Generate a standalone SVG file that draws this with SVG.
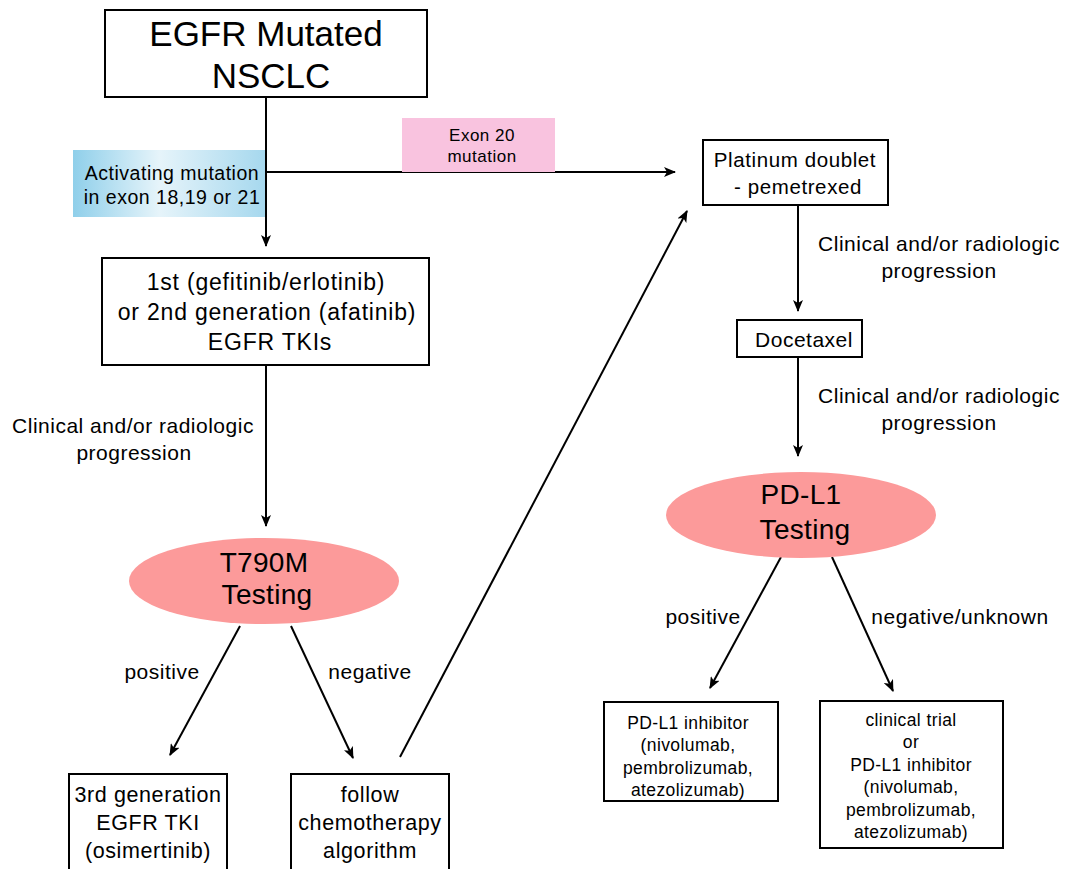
<svg xmlns="http://www.w3.org/2000/svg" width="1067" height="869" viewBox="0 0 1067 869">
<defs>
<marker id="ah" viewBox="0 0 12 10" refX="11" refY="5" markerWidth="12" markerHeight="10" markerUnits="userSpaceOnUse" orient="auto">
<path d="M0,0 L12,5 L0,10 L3,5 Z" fill="#000"/>
</marker>
<linearGradient id="blue" x1="0" y1="0" x2="1" y2="0">
<stop offset="0" stop-color="#8fcfea"/>
<stop offset="0.45" stop-color="#e6f4fa"/>
<stop offset="1" stop-color="#a6d8ee"/>
</linearGradient>
</defs>
<style>
text{font-family:"Liberation Sans",Arial,sans-serif;fill:#000;text-anchor:middle}
.box{fill:#fff;stroke:#000;stroke-width:2}
.ell{fill:#fc9a9a;stroke:none}
.con{stroke:#000;stroke-width:2;fill:none}
.arr{stroke:#000;stroke-width:2;fill:none;marker-end:url(#ah)}
.big{font-size:35px}
.ellt{font-size:28px;letter-spacing:0.3px}
.lab{font-size:21px;letter-spacing:0.5px}
.act{font-size:19.5px;letter-spacing:0.5px}
.exon{font-size:17px;letter-spacing:0.5px}
.tki{font-size:23px;letter-spacing:0.8px}
.bot{font-size:21.5px;letter-spacing:0.6px}
.plat{font-size:20.5px;letter-spacing:0.6px}
.sm{font-size:17.5px;letter-spacing:0.4px}
</style>
<rect width="1067" height="869" fill="#fff"/>

<g id="connectors">
<line class="con" x1="266" y1="97" x2="266" y2="172"/>
<line class="arr" x1="266" y1="172" x2="266" y2="246"/>
<line class="arr" x1="266" y1="172" x2="675" y2="172"/>
<line class="arr" x1="266" y1="365" x2="266" y2="526"/>
<line class="arr" x1="240" y1="626" x2="170" y2="755"/>
<line class="arr" x1="291" y1="626" x2="353" y2="758"/>
<line class="arr" x1="400" y1="757" x2="687" y2="211"/>
<line class="arr" x1="798" y1="205" x2="798" y2="311"/>
<line class="arr" x1="798" y1="357" x2="798" y2="456"/>
<line class="arr" x1="781" y1="557" x2="710" y2="688"/>
<line class="arr" x1="832" y1="557" x2="893" y2="691"/>
</g>

<g id="label-activating">
<rect x="73" y="150" width="192" height="67" fill="url(#blue)"/>
<text class="act" x="172" y="180">Activating mutation</text>
<text class="act" x="172" y="204">in exon 18,19 or 21</text>
</g>
<g id="label-exon20">
<rect x="402" y="118" width="153" height="54" fill="#f9c3df"/>
<text class="exon" x="482" y="141">Exon 20</text>
<text class="exon" x="482" y="162">mutation</text>
</g>

<g id="node-egfr">
<rect class="box" x="105" y="10" width="322" height="87"/>
<text class="big" x="266" y="46">EGFR Mutated</text>
<text class="big" x="271" y="88">NSCLC</text>
</g>

<g id="node-tki">
<rect class="box" x="102" y="258" width="327" height="107"/>
<text class="tki" x="266" y="290">1st (gefitinib/erlotinib)</text>
<text class="tki" x="267" y="320">or 2nd generation (afatinib)</text>
<text class="tki" x="270" y="350">EGFR TKIs</text>
</g>

<g id="label-progression-left">
<text class="lab" x="133" y="433">Clinical and/or radiologic</text>
<text class="lab" x="134" y="460">progression</text>
</g>

<g id="node-t790m">
<ellipse class="ell" cx="264" cy="581" rx="135" ry="43"/>
<text class="ellt" x="264" y="572">T790M</text>
<text class="ellt" x="267" y="604">Testing</text>
</g>

<text class="lab" x="162" y="679">positive</text>
<text class="lab" x="370" y="679">negative</text>

<g id="node-3rd">
<rect class="box" x="69" y="774" width="158" height="100"/>
<text class="bot" x="148" y="802">3rd generation</text>
<text class="bot" x="148" y="830">EGFR TKI</text>
<text class="bot" x="148" y="858">(osimertinib)</text>
</g>

<g id="node-follow">
<rect class="box" x="291" y="774" width="158" height="100"/>
<text class="bot" x="370" y="802">follow</text>
<text class="bot" x="370" y="830">chemotherapy</text>
<text class="bot" x="370" y="858">algorithm</text>
</g>

<g id="node-platinum">
<rect class="box" x="703" y="140" width="185" height="65"/>
<text class="plat" x="795" y="167">Platinum doublet</text>
<text class="plat" x="798" y="194">- pemetrexed</text>
</g>

<g id="label-progression-right1">
<text class="lab" x="939" y="251">Clinical and/or radiologic</text>
<text class="lab" x="939" y="278">progression</text>
</g>

<g id="node-docetaxel">
<rect class="box" x="737" y="320" width="125" height="37"/>
<text class="lab" x="804" y="347">Docetaxel</text>
</g>

<g id="label-progression-right2">
<text class="lab" x="939" y="403">Clinical and/or radiologic</text>
<text class="lab" x="939" y="430">progression</text>
</g>

<g id="node-pdl1">
<ellipse class="ell" cx="801" cy="515" rx="135" ry="43"/>
<text class="ellt" x="801" y="504">PD-L1</text>
<text class="ellt" x="805" y="539">Testing</text>
</g>

<text class="lab" x="703" y="624">positive</text>
<text class="lab" x="960" y="624">negative/unknown</text>

<g id="node-pdl1-inhibitor">
<rect class="box" x="604" y="702" width="174" height="99"/>
<text class="sm" x="688" y="729">PD-L1 inhibitor</text>
<text class="sm" x="688" y="751">(nivolumab,</text>
<text class="sm" x="688" y="774">pembrolizumab,</text>
<text class="sm" x="688" y="796">atezolizumab)</text>
</g>

<g id="node-trial">
<rect class="box" x="820" y="701" width="183" height="147"/>
<text class="sm" x="911" y="726">clinical trial</text>
<text class="sm" x="911" y="748">or</text>
<text class="sm" x="911" y="771">PD-L1 inhibitor</text>
<text class="sm" x="911" y="793">(nivolumab,</text>
<text class="sm" x="911" y="816">pembrolizumab,</text>
<text class="sm" x="911" y="838">atezolizumab)</text>
</g>
</svg>
